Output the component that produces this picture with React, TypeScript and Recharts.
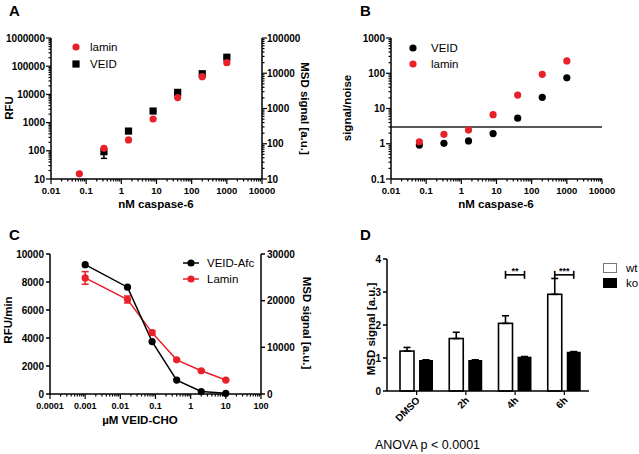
import React from 'react';
import {
  ScatterChart, Scatter, ComposedChart, Line, BarChart, Bar,
  XAxis, YAxis, ErrorBar, ReferenceLine, Legend,
} from 'recharts';

const FONT = '"Liberation Sans", Arial, Helvetica, sans-serif';
const RED = '#e8202a';

// ---- A: caspase-6 titration (RFU left, MSD right) ----
const caspaseNM = [0.064, 0.32, 1.6, 8, 40, 200, 1000];
const laminMSD_A = [14, 74, 128, 503, 2040, 8000, 19900];
const veidRFU_A = [null, 93, 500, 2570, 11800, 54000, 208000];
const veidRFU_A_err = [null, [39, 30], [0, 0], [0, 0], [0, 0], [0, 0], [0, 0]];
const caspaseTicks = [0.01, 0.1, 1, 10, 100, 1000, 10000];
const rfuTicksA = [10, 100, 1000, 10000, 100000, 1000000];
const msdTicksA = [10, 100, 1000, 10000, 100000];

// ---- B: signal/noise ----
const snVEID = [0.92, 1.03, 1.2, 1.94, 5.3, 20.8, 74];
const snLamin = [1.14, 1.85, 2.45, 6.7, 24, 93, 223];
const snThreshold = 3;
const snTicks = [0.1, 1, 10, 100, 1000];

// ---- C: VEID-CHO inhibition ----
const veidCHO = [0.001, 0.016, 0.08, 0.4, 2, 10];
const veidAfcRate = [9240, 7630, 3745, 995, 180, 50];
const laminMSD_C = [24870, 20250, 13150, 7320, 4980, 2985];
const laminMSD_C_err = [1350, 750, 450, 150, 150, 150];
const choTicks = [0.0001, 0.001, 0.01, 0.1, 1, 10, 100];
const rfuTicksC = [0, 2000, 4000, 6000, 8000, 10000];
const msdTicksC = [0, 10000, 20000, 30000];

// ---- D: wt vs ko time course ----
const timepoints = ['DMSO', '2h', '4h', '6h'];
const wtSignal = [1.21, 1.59, 2.05, 2.93];
const wtErr = [0.11, 0.19, 0.23, 0.48];
const koSignal = [0.94, 0.94, 1.04, 1.19];
const koErr = [0.01, 0.01, 0.01, 0.01];
const sigMarks = ['', '', '**', '***'];
const sigLevel = 3.52;
const dTicks = [0, 1, 2, 3, 4];

const BAR_SIZE = 14;
const BAR_GAP = 5;

const tickStyle = { fontFamily: FONT, fontSize: 10, fontWeight: 700, fill: '#000' };
const titleStyle = { fontFamily: FONT, fontSize: 11.5, fontWeight: 700, fill: '#000' };
const AXIS = { stroke: '#000', strokeWidth: 1.5 };

// log axis ticks: decades plus 2..9 minors
function withMinors(majors: number[]) {
  const out: number[] = [];
  majors.forEach((m, i) => {
    out.push(m);
    if (i < majors.length - 1) {
      for (let k = 2; k <= 9; k++) out.push(+(m * k).toPrecision(6));
    }
  });
  return out;
}

const LogTick = ({ x, y, payload, side, gap, size = 10 }: any) => {
  const v = payload.value;
  const lg = Math.log10(v);
  const major = Math.abs(lg - Math.round(lg)) < 1e-6;
  const len = major ? 5 : 2.5;
  const label = String(Number(v.toPrecision(6)));
  const style = { ...tickStyle, fontSize: size };
  if (side === 'bottom') {
    return (
      <g>
        <line x1={x} y1={y} x2={x} y2={y + len} stroke="#000" strokeWidth={1.2} />
        {major && <text x={x} y={y + gap} textAnchor="middle" style={style}>{label}</text>}
      </g>
    );
  }
  const dir = side === 'left' ? -1 : 1;
  return (
    <g>
      <line x1={x} y1={y} x2={x + dir * len} y2={y} stroke="#000" strokeWidth={1.2} />
      {major && (
        <text x={x + dir * gap} y={y + 3.5} textAnchor={side === 'left' ? 'end' : 'start'} style={style}>
          {label}
        </text>
      )}
    </g>
  );
};

const Dot = ({ cx, cy, fill }: any) => <circle cx={cx} cy={cy} r={3.6} fill={fill} />;
const Square = ({ cx, cy }: any) => <rect x={cx - 3.6} y={cy - 3.6} width={7.2} height={7.2} fill="#000" />;

type LegendItem = { label: string; icon: 'dot' | 'square' | 'line' | 'box'; color: string };

const makeLegend = (items: LegendItem[], iconW: number, textGap: number, rowH: number) => () => (
  <div style={{ fontFamily: FONT, fontSize: 11.5, color: '#000' }}>
    {items.map((it) => (
      <div key={it.label} style={{ display: 'flex', alignItems: 'center', height: rowH }}>
        <svg width={iconW} height={12} style={{ display: 'block' }}>
          {it.icon === 'dot' && <circle cx={iconW / 2} cy={6} r={3.6} fill={it.color} />}
          {it.icon === 'square' && <rect x={iconW / 2 - 3.6} y={2.4} width={7.2} height={7.2} fill={it.color} />}
          {it.icon === 'line' && (
            <g>
              <line x1={0} y1={6} x2={iconW} y2={6} stroke={it.color} strokeWidth={1.5} />
              <circle cx={iconW / 2} cy={6} r={3.6} fill={it.color} />
            </g>
          )}
          {it.icon === 'box' && (
            <rect x={0.5} y={1.5} width={iconW - 1} height={9} fill={it.color} stroke={it.color === '#fff' ? '#777' : '#000'} strokeWidth={1} />
          )}
        </svg>
        <span style={{ marginLeft: textGap }}>{it.label}</span>
      </div>
    ))}
  </div>
);

const PanelA = () => {
  const lamin = caspaseNM.map((x, i) => ({ x, y: laminMSD_A[i] }));
  const veid = caspaseNM
    .map((x, i) => ({ x, y: veidRFU_A[i], err: veidRFU_A_err[i] }))
    .filter((d) => d.y !== null);
  return (
    <ScatterChart width={320} height={227} margin={{ top: 38, right: 0, bottom: 0, left: 0 }}>
      <XAxis type="number" dataKey="x" scale="log" domain={[0.01, 10000]} ticks={withMinors(caspaseTicks)}
        interval={0} height={48} tickSize={0} tickMargin={0} tickLine={false} axisLine={AXIS}
        tick={(p: any) => <LogTick {...p} side="bottom" gap={14.5} size={9.5} />} allowDataOverflow />
      <YAxis yAxisId="rfu" type="number" dataKey="y" scale="log" domain={[10, 1000000]} ticks={withMinors(rfuTicksA)}
        interval={0} width={51} tickSize={0} tickMargin={0} tickLine={false} axisLine={AXIS}
        tick={(p: any) => <LogTick {...p} side="left" gap={6} />} allowDataOverflow />
      <YAxis yAxisId="msd" orientation="right" type="number" dataKey="y" scale="log" domain={[10, 100000]}
        ticks={withMinors(msdTicksA)} interval={0} width={58} tickSize={0} tickMargin={0} tickLine={false}
        axisLine={AXIS} tick={(p: any) => <LogTick {...p} side="right" gap={5} />} allowDataOverflow />
      <Scatter name="VEID" yAxisId="rfu" data={veid} shape={Square} isAnimationActive={false}>
        <ErrorBar dataKey="err" direction="y" width={3} stroke="#000" strokeWidth={1.5} />
      </Scatter>
      <Scatter name="lamin" yAxisId="msd" data={lamin} shape={(p: any) => <Dot {...p} fill={RED} />} isAnimationActive={false} />
      <Legend layout="horizontal" verticalAlign="middle" align="center"
        wrapperStyle={{ left: 68.5, top: 39, width: 'auto' }}
        content={makeLegend([
          { label: 'lamin', icon: 'dot', color: RED },
          { label: 'VEID', icon: 'square', color: '#000' },
        ], 14, 7.5, 16.5)} />
    </ScatterChart>
  );
};

const PanelB = () => {
  const veid = caspaseNM.map((x, i) => ({ x, y: snVEID[i] }));
  const lamin = caspaseNM.map((x, i) => ({ x, y: snLamin[i] }));
  return (
    <ScatterChart width={319} height={227} margin={{ top: 38, right: 37, bottom: 0, left: 0 }}>
      <XAxis type="number" dataKey="x" scale="log" domain={[0.01, 10000]} ticks={withMinors(caspaseTicks)}
        interval={0} height={48} tickSize={0} tickMargin={0} tickLine={false} axisLine={AXIS}
        tick={(p: any) => <LogTick {...p} side="bottom" gap={14.5} size={9.5} />} allowDataOverflow />
      <YAxis type="number" dataKey="y" scale="log" domain={[0.1, 1000]} ticks={withMinors(snTicks)}
        interval={0} width={71} tickSize={0} tickMargin={0} tickLine={false} axisLine={AXIS}
        tick={(p: any) => <LogTick {...p} side="left" gap={6} />} allowDataOverflow />
      <ReferenceLine y={snThreshold} stroke="#222" strokeWidth={1.5} />
      <Scatter name="VEID" data={veid} shape={(p: any) => <Dot {...p} fill="#000" />} isAnimationActive={false} />
      <Scatter name="lamin" data={lamin} shape={(p: any) => <Dot {...p} fill={RED} />} isAnimationActive={false} />
      <Legend layout="horizontal" verticalAlign="middle" align="center"
        wrapperStyle={{ left: 86, top: 40, width: 'auto' }}
        content={makeLegend([
          { label: 'VEID', icon: 'dot', color: '#000' },
          { label: 'lamin', icon: 'dot', color: RED },
        ], 14, 11, 16)} />
    </ScatterChart>
  );
};

const PanelC = () => {
  const data = veidCHO.map((x, i) => ({
    x, veid: veidAfcRate[i], lamin: laminMSD_C[i], laminErr: laminMSD_C_err[i],
  }));
  return (
    <ComposedChart width={320} height={227} data={data} margin={{ top: 27, right: 0, bottom: 0, left: 0 }}>
      <XAxis type="number" dataKey="x" scale="log" domain={[0.0001, 100]} ticks={withMinors(choTicks)}
        interval={0} height={60} tickSize={0} tickMargin={0} tickLine={false} axisLine={AXIS}
        tick={(p: any) => <LogTick {...p} side="bottom" gap={15} size={9} />} allowDataOverflow />
      <YAxis yAxisId="rfu" type="number" domain={[0, 10000]} ticks={rfuTicksC} interval={0} width={50}
        tickSize={4} tickMargin={2} tickLine={AXIS} axisLine={AXIS} tick={tickStyle} />
      <YAxis yAxisId="msd" orientation="right" type="number" domain={[0, 30000]} ticks={msdTicksC} interval={0}
        width={59} tickSize={4} tickMargin={2} tickLine={AXIS} axisLine={AXIS} tick={tickStyle} />
      <Line yAxisId="msd" dataKey="lamin" name="Lamin" stroke={RED} strokeWidth={1.5}
        dot={{ r: 3.6, fill: RED, stroke: RED, strokeWidth: 0 }} isAnimationActive={false}>
        <ErrorBar dataKey="laminErr" direction="y" width={3.5} stroke={RED} strokeWidth={1.5} />
      </Line>
      <Line yAxisId="rfu" dataKey="veid" name="VEID-Afc" stroke="#000" strokeWidth={1.5}
        dot={{ r: 3.6, fill: '#000', stroke: '#000', strokeWidth: 0 }} isAnimationActive={false} />
      <Legend layout="horizontal" verticalAlign="middle" align="center"
        wrapperStyle={{ left: 182.5, top: 28, width: 'auto' }}
        content={makeLegend([
          { label: 'VEID-Afc', icon: 'line', color: '#000' },
          { label: 'Lamin', icon: 'line', color: RED },
        ], 16, 8.5, 16)} />
    </ComposedChart>
  );
};

const WtBar = (props: any) => {
  const { x, y, width, height, payload } = props;
  const base = y + height;
  const pxPerUnit = height / payload.wt;
  const sy = base - sigLevel * pxPerUnit;
  const x1 = x + width / 2;
  const x2 = x + width + BAR_GAP + width / 2;
  return (
    <g>
      <rect x={x} y={y} width={width} height={height} fill="#fff" stroke="#000" strokeWidth={1.6} />
      {payload.sig && (
        <g stroke="#000" strokeWidth={1.6}>
          <line x1={x1} y1={sy} x2={x2} y2={sy} />
          <line x1={x1} y1={sy - 4} x2={x1} y2={sy + 4} />
          <line x1={x2} y1={sy - 4} x2={x2} y2={sy + 4} />
          <text x={(x1 + x2) / 2} y={sy - 1} textAnchor="middle" stroke="none"
            style={{ fontFamily: FONT, fontSize: 9, fontWeight: 700, fill: '#000' }}>{payload.sig}</text>
        </g>
      )}
    </g>
  );
};

const CatTick = ({ x, y, payload }: any) => (
  <g>
    <line x1={x} y1={y} x2={x} y2={y + 4} stroke="#000" strokeWidth={1.2} />
    <text x={x + 4} y={y + 10} textAnchor="end" transform={`rotate(-45 ${x + 4} ${y + 10})`} style={tickStyle}>
      {payload.value}
    </text>
  </g>
);

const PanelD = () => {
  const data = timepoints.map((t, i) => ({
    t, wt: wtSignal[i], ko: koSignal[i], wtErr: [0, wtErr[i]], koErr: [0, koErr[i]], sig: sigMarks[i],
  }));
  return (
    <BarChart width={319} height={227} data={data} barSize={BAR_SIZE} barGap={BAR_GAP}
      margin={{ top: 32, right: 50, bottom: 0, left: 0 }}>
      <XAxis dataKey="t" type="category" padding={{ left: 5, right: 0 }} height={63} interval={0}
        tickSize={0} tickMargin={0} tickLine={false} axisLine={AXIS} tick={CatTick} />
      <YAxis type="number" domain={[0, 4]} ticks={dTicks} interval={0} width={67}
        tickSize={4} tickMargin={2} tickLine={AXIS} axisLine={AXIS} tick={tickStyle} />
      <Bar dataKey="wt" name="wt" fill="#fff" shape={WtBar} isAnimationActive={false}>
        <ErrorBar dataKey="wtErr" direction="y" width={3.5} stroke="#000" strokeWidth={1.6} />
      </Bar>
      <Bar dataKey="ko" name="ko" fill="#000" isAnimationActive={false}>
        <ErrorBar dataKey="koErr" direction="y" width={3.5} stroke="#000" strokeWidth={1.2} />
      </Bar>
      <Legend layout="horizontal" verticalAlign="middle" align="center"
        wrapperStyle={{ left: 283, top: 33, width: 'auto' }}
        content={makeLegend([
          { label: 'wt', icon: 'box', color: '#fff' },
          { label: 'ko', icon: 'box', color: '#000' },
        ], 14, 9, 15.5)} />
    </BarChart>
  );
};

const letterStyle = { fontFamily: FONT, fontSize: 15, fontWeight: 700, fill: '#000' };

export default function App() {
  return (
    <div style={{ position: 'absolute', left: 0, top: 0, width: 639, height: 454, background: '#fff', overflow: 'hidden' }}>
      <div style={{ position: 'absolute', left: 0, top: 0 }}><PanelA /></div>
      <div style={{ position: 'absolute', left: 320, top: 0 }}><PanelB /></div>
      <div style={{ position: 'absolute', left: 0, top: 227 }}><PanelC /></div>
      <div style={{ position: 'absolute', left: 320, top: 227 }}><PanelD /></div>
      <svg width={639} height={454} style={{ position: 'absolute', left: 0, top: 0, pointerEvents: 'none' }}>
        <text x={9} y={16} style={letterStyle}>A</text>
        <text x={360} y={16} style={letterStyle}>B</text>
        <text x={9} y={240} style={letterStyle}>C</text>
        <text x={360} y={240} style={letterStyle}>D</text>

        <text x={12.5} y={108} textAnchor="middle" transform="rotate(-90 12.5 108)" style={titleStyle}>RFU</text>
        <text x={301} y={108.5} textAnchor="middle" transform="rotate(90 301 108.5)" style={titleStyle}>MSD signal [a.u.]</text>
        <text x={156} y={208} textAnchor="middle" style={titleStyle}>nM caspase-6</text>

        <text x={351} y={108} textAnchor="middle" transform="rotate(-90 351 108)" style={titleStyle}>signal/noise</text>
        <text x={496} y={208} textAnchor="middle" style={titleStyle}>nM caspase-6</text>

        <text x={12} y={320} textAnchor="middle" transform="rotate(-90 12 320)" style={titleStyle}>RFU/min</text>
        <text x={303} y={323} textAnchor="middle" transform="rotate(90 303 323)" style={titleStyle}>MSD signal [a.u.]</text>
        <text x={140} y={424} textAnchor="middle" style={titleStyle}>µM VEID-CHO</text>

        <text x={375} y={329} textAnchor="middle" transform="rotate(-90 375 329)" style={titleStyle}>MSD signal [a.u.]</text>
        <text x={375} y={449} style={{ fontFamily: FONT, fontSize: 12.5, fill: '#000' }}>ANOVA p &lt; 0.0001</text>
      </svg>
    </div>
  );
}
